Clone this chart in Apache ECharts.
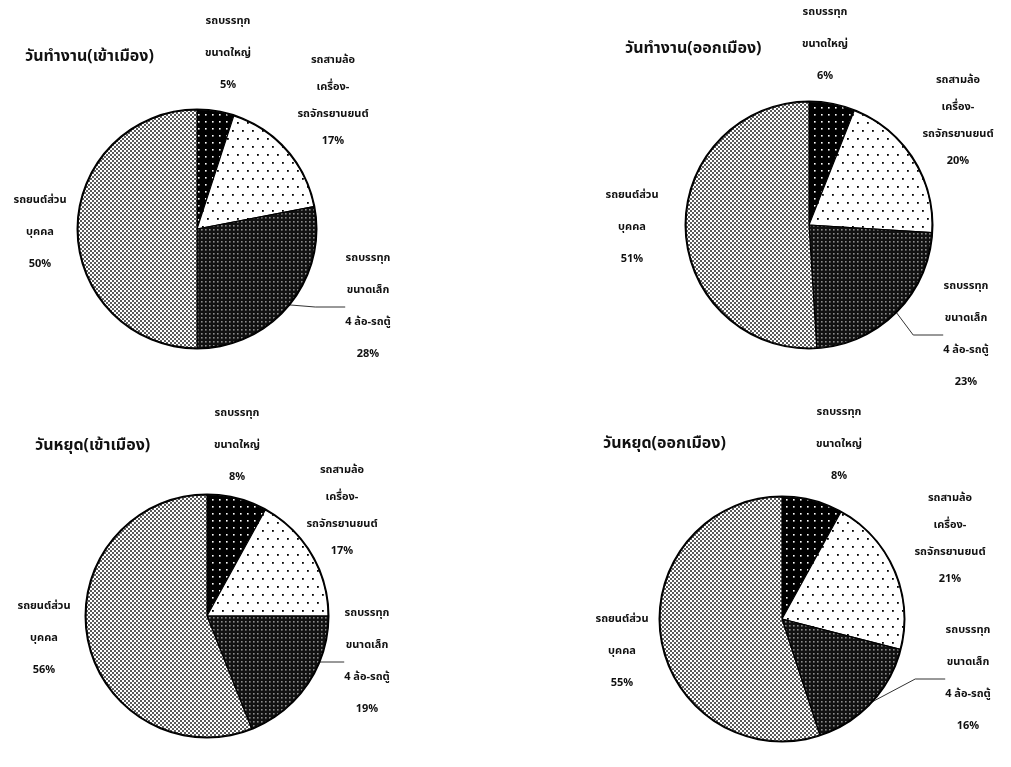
<!DOCTYPE html>
<html>
<head>
<meta charset="utf-8">
<script src="https://cdn.jsdelivr.net/npm/echarts@6/dist/echarts.min.js"></script>
<style>
  html, body { margin: 0; padding: 0; background: #fff; }
  #chart { width: 1011px; height: 767px; }
</style>
</head>
<body>
<div id="chart"></div>
<script>
// Vehicle categories, clockwise from 12 o'clock
const categories = [
  'รถบรรทุก\nขนาดใหญ่',
  'รถสามล้อ\nเครื่อง-\nรถจักรยานยนต์',
  'รถบรรทุก\nขนาดเล็ก\n4 ล้อ-รถตู้',
  'รถยนต์ส่วน\nบุคคล'
];

// Share of traffic (%) for each panel
const titles = [
  'วันทำงาน(เข้าเมือง)',
  'วันทำงาน(ออกเมือง)',
  'วันหยุด(เข้าเมือง)',
  'วันหยุด(ออกเมือง)'
];
const workdayIn  = [5, 17, 28, 50];
const workdayOut = [6, 20, 23, 51];
const holidayIn  = [8, 17, 19, 56];
const holidayOut = [8, 21, 16, 55];
const panelValues = [workdayIn, workdayOut, holidayIn, holidayOut];

// Panel geometry: pie centre, radius, title position
const panels = [
  { center: [197, 229], r: 119, title: [20, 45] },
  { center: [809, 225], r: 123, title: [620, 37] },
  { center: [207, 616], r: 121, title: [30, 434] },
  { center: [782, 619], r: 122, title: [598, 432] }
];
// Label anchor per panel and category: [centre x, centre y of first line]
const labelSpots = [
  [[228, 22], [333, 61], [368, 259], [40, 201]],
  [[825, 13], [958, 81], [966, 287], [632, 196]],
  [[237, 414], [342, 471], [367, 614], [44, 607]],
  [[839, 413], [950, 499], [968, 631], [622, 620]]
];

// --- Fill patterns -------------------------------------------------------
function makePattern(w, h, bg, dotColor, dots, size) {
  const c = document.createElement('canvas');
  c.width = w; c.height = h;
  const g = c.getContext('2d');
  g.fillStyle = bg; g.fillRect(0, 0, w, h);
  g.fillStyle = dotColor;
  dots.forEach(function (d) { g.fillRect(d[0], d[1], size, size); });
  return { image: c, repeat: 'repeat' };
}
const fills = [
  makePattern(7, 7, '#000', '#fff', [[2, 2]], 1.6),                     // large truck
  makePattern(10, 16, '#fff', '#000', [[2, 2], [7, 10]], 1.8),          // three-wheeler / motorcycle
  makePattern(4, 4, '#111', '#8c8c8c', [[1, 1]], 1.6),                  // small truck / van
  makePattern(4, 4, '#fff', '#5a5a5a', [[0, 0], [2, 2]], 2)             // private car
];

const FONT = '"Noto Sans Thai", "Noto Serif Thai", Loma, Garuda, Norasi, "Tlwg Typo", Kinnari, "DejaVu Serif", serif';

const chart = echarts.init(document.getElementById('chart'), null, { renderer: 'canvas' });

const series = panels.map(function (p, pi) {
  const vals = panelValues[pi];
  return {
    type: 'pie',
    center: p.center,
    radius: p.r,
    startAngle: 90,
    clockwise: true,
    animation: false,
    silent: true,
    itemStyle: { borderColor: '#000', borderWidth: 1.2 },
    label: {
      show: true,
      position: 'outside',
      formatter: '{b}\n{c}%',
      fontFamily: FONT,
      fontWeight: 'bold',
      fontSize: 11,
      color: '#111',
      lineHeight: 32,
      align: 'center',
      overflow: 'none'
    },
    labelLine: { show: false },
    labelLayout: function (params) {
      const s = labelSpots[pi][params.dataIndex];
      const lh = params.dataIndex === 1 ? 27 : 32;
      return {
        x: s[0],
        y: s[1] - lh / 2,
        align: 'center',
        verticalAlign: 'top'
      };
    },
    data: categories.map(function (name, i) {
      const item = {
        name: name,
        value: vals[i],
        itemStyle: { color: fills[i] }
      };
      if (i === 1) item.label = { lineHeight: 27 };
      if (i === 2) item.labelLine = { show: true, length: 14, length2: 30, lineStyle: { color: '#333', width: 1 } };
      return item;
    })
  };
});

// Outer rim drawn as a heavier ring over each pie
panels.forEach(function (p) {
  series.push({
    type: 'pie',
    center: p.center,
    radius: [p.r, p.r + 1.5],
    silent: true,
    animation: false,
    label: { show: false },
    labelLine: { show: false },
    itemStyle: { color: '#000' },
    data: [{ value: 1 }]
  });
});

chart.setOption({
  backgroundColor: '#fff',
  title: titles.map(function (t, i) {
    return {
      text: t,
      left: panels[i].title[0],
      top: panels[i].title[1],
      textStyle: { fontFamily: FONT, fontWeight: 'bold', fontSize: 16, color: '#111' }
    };
  }),
  series: series
});
</script>
</body>
</html>
